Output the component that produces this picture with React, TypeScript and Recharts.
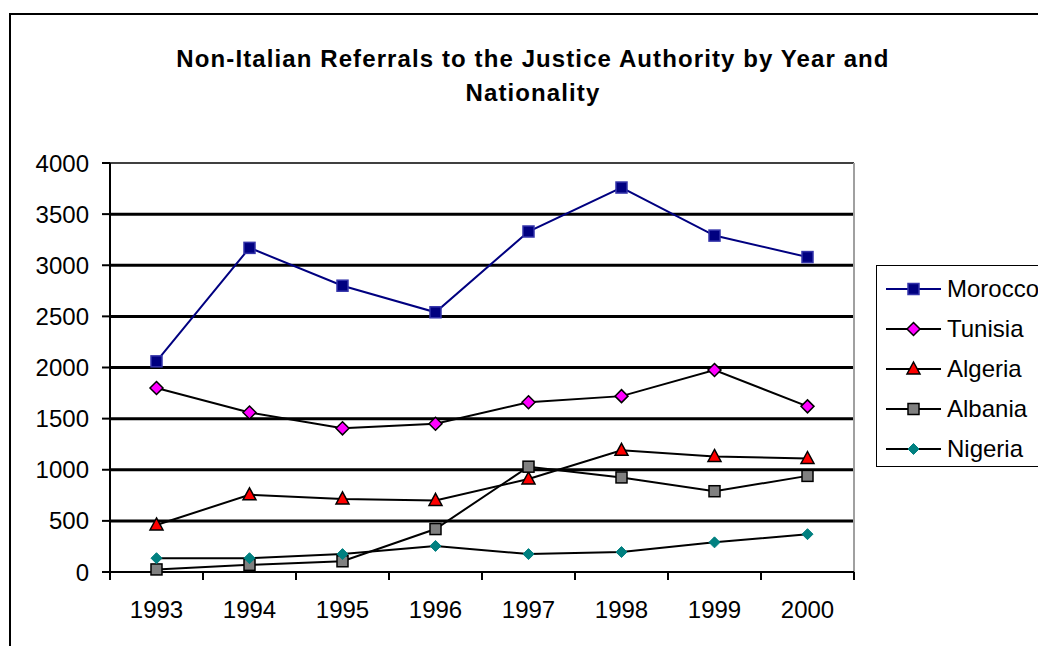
import React from 'react';
import {
  LineChart,
  Line,
  XAxis,
  YAxis,
  CartesianGrid,
  Legend,
  ReferenceLine,
} from 'recharts';

const years = ['1993', '1994', '1995', '1996', '1997', '1998', '1999', '2000'];
const morocco = [2060, 3170, 2800, 2540, 3330, 3760, 3290, 3080];
const tunisia = [1800, 1560, 1405, 1450, 1660, 1720, 1975, 1620];
const algeria = [460, 755, 715, 700, 910, 1190, 1130, 1110];
const albania = [25, 70, 105, 420, 1030, 925, 790, 940];
const nigeria = [135, 135, 175, 255, 175, 195, 290, 370];
const yTicks = [0, 500, 1000, 1500, 2000, 2500, 3000, 3500, 4000];
const gridValues = [500, 1000, 1500, 2000, 2500, 3000, 3500];

const data = years.map((year, i) => ({
  idx: i,
  year,
  Morocco: morocco[i],
  Tunisia: tunisia[i],
  Algeria: algeria[i],
  Albania: albania[i],
  Nigeria: nigeria[i],
}));

// boundaries between categories, Excel style
const xTicks = years.map((_, i) => i - 0.5).concat([years.length - 0.5]);

const FONT = '"Liberation Sans", Arial, sans-serif';
const LABEL_SIZE = 24;
const PLOT_W = 744;
const BAND = PLOT_W / years.length;

type Shape = 'square' | 'diamond' | 'triangle' | 'smalldiamond';

const series: { key: string; line: string; fill: string; edge: string; shape: Shape }[] = [
  { key: 'Morocco', line: '#000080', fill: '#000080', edge: '#3333aa', shape: 'square' },
  { key: 'Tunisia', line: '#000000', fill: '#ff00ff', edge: '#000000', shape: 'diamond' },
  { key: 'Algeria', line: '#000000', fill: '#ff0000', edge: '#000000', shape: 'triangle' },
  { key: 'Albania', line: '#000000', fill: '#808080', edge: '#000000', shape: 'square' },
  { key: 'Nigeria', line: '#000000', fill: '#008080', edge: '#008080', shape: 'smalldiamond' },
];

const Marker = ({ cx, cy, shape, fill, edge }: { cx: number; cy: number; shape: Shape; fill: string; edge: string }) => {
  if (shape === 'square') {
    return <rect x={cx - 5.5} y={cy - 5.5} width={11} height={11} fill={fill} stroke={edge} strokeWidth={1.5} />;
  }
  if (shape === 'diamond') {
    return (
      <polygon
        points={`${cx},${cy - 6.5} ${cx + 6.5},${cy} ${cx},${cy + 6.5} ${cx - 6.5},${cy}`}
        fill={fill}
        stroke={edge}
        strokeWidth={1.5}
      />
    );
  }
  if (shape === 'triangle') {
    return (
      <polygon
        points={`${cx},${cy - 7} ${cx + 6.5},${cy + 5} ${cx - 6.5},${cy + 5}`}
        fill={fill}
        stroke={edge}
        strokeWidth={1.5}
      />
    );
  }
  return (
    <polygon
      points={`${cx},${cy - 5.5} ${cx + 5.5},${cy} ${cx},${cy + 5.5} ${cx - 5.5},${cy}`}
      fill={fill}
      stroke={edge}
      strokeWidth={1}
    />
  );
};

const XTick = (props: any) => {
  const { x, y, payload } = props;
  const i = payload.value + 0.5;
  if (i < 0 || i >= years.length) return <g />;
  return (
    <text x={x + BAND / 2} y={y} dy={36} textAnchor="middle" fontSize={LABEL_SIZE} fill="#000" fontFamily={FONT}>
      {years[i]}
    </text>
  );
};

const LegendBox = () => (
  <div
    style={{
      border: '1.5px solid #000',
      width: 190,
      height: 202,
      boxSizing: 'border-box',
      background: '#fff',
      paddingTop: 3,
    }}
  >
    {series.map((s) => (
      <div key={s.key} style={{ display: 'flex', alignItems: 'center', height: 40 }}>
        <svg width={70} height={40} style={{ flex: 'none' }}>
          <line x1={9} y1={20} x2={64} y2={20} stroke={s.line} strokeWidth={2} />
          <Marker cx={36.5} cy={20} shape={s.shape} fill={s.fill} edge={s.edge} />
        </svg>
        <span style={{ fontSize: LABEL_SIZE, fontFamily: FONT, color: '#000', whiteSpace: 'nowrap' }}>{s.key}</span>
      </div>
    ))}
  </div>
);

export default function App() {
  return (
    <div
      style={{
        position: 'absolute',
        left: 0,
        top: 0,
        width: 1038,
        height: 646,
        overflow: 'hidden',
        background: '#fff',
        fontFamily: FONT,
      }}
    >
      <div
        style={{
          position: 'absolute',
          left: 9,
          top: 13,
          width: 1100,
          height: 700,
          border: '2.5px solid #000',
        }}
      />
      <div
        style={{
          position: 'absolute',
          left: 83,
          top: 42,
          width: 900,
          textAlign: 'center',
          fontSize: 24,
          letterSpacing: 1.1,
          fontWeight: 'bold',
          lineHeight: '34px',
          color: '#000',
        }}
      >
        Non-Italian Referrals to the Justice Authority by Year and
        <br />
        Nationality
      </div>
      <div style={{ position: 'absolute', left: 0, top: 0 }}>
        <LineChart width={1038} height={646} data={data} margin={{ top: 163, right: 184, bottom: 34, left: 50 }}>
          <CartesianGrid horizontal vertical={false} horizontalValues={gridValues} stroke="#000" strokeWidth={3} />
          <ReferenceLine y={4000} stroke="#404040" strokeWidth={2} />
          <ReferenceLine x={7.5} stroke="#a0a0a0" strokeWidth={2} />
          <XAxis
            dataKey="idx"
            type="number"
            domain={[-0.5, 7.5]}
            ticks={xTicks}
            interval={0}
            height={40}
            tickSize={8}
            tickMargin={2}
            axisLine={{ stroke: '#000', strokeWidth: 2 }}
            tickLine={{ stroke: '#000', strokeWidth: 2 }}
            tick={<XTick />}
          />
          <YAxis
            domain={[0, 4000]}
            ticks={yTicks}
            interval={0}
            width={60}
            tickSize={8}
            tickMargin={13}
            axisLine={{ stroke: '#000', strokeWidth: 2 }}
            tickLine={{ stroke: '#000', strokeWidth: 2 }}
            tick={{ fontSize: LABEL_SIZE, fill: '#000', fontFamily: FONT }}
          />
          <Legend
            layout="vertical"
            align="center"
            verticalAlign="middle"
            content={<LegendBox />}
            wrapperStyle={{ position: 'absolute', left: 876, top: 265, width: 190, bottom: 'auto', right: 'auto' }}
          />
          {series.map((s) => (
            <Line
              key={s.key}
              type="linear"
              dataKey={s.key}
              stroke={s.line}
              strokeWidth={2}
              isAnimationActive={false}
              dot={(p: any) => (
                <Marker key={`${s.key}-${p.index}`} cx={p.cx} cy={p.cy} shape={s.shape} fill={s.fill} edge={s.edge} />
              )}
              activeDot={false}
            />
          ))}
        </LineChart>
      </div>
    </div>
  );
}
